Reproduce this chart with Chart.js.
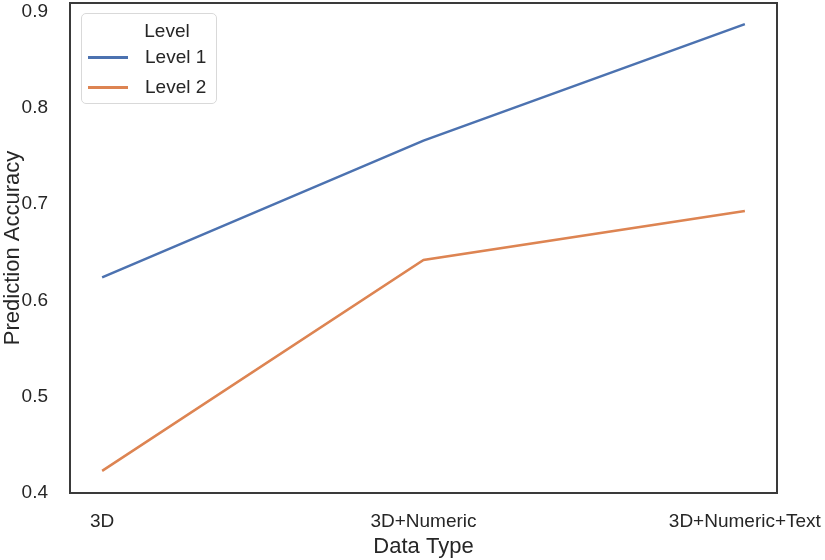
<!DOCTYPE html>
<html>
<head>
<title>Prediction Accuracy by Data Type</title>
<script src="https://cdn.jsdelivr.net/npm/chart.js@4.4.0/dist/chart.umd.min.js"></script>
<style>
    body {
        margin: 0;
        background: #fff;
        font-family: "Liberation Sans", Arial, sans-serif;
    }
    .wrap {
        position: relative;
        width: 825px;
        height: 560px;
    }
    .legend {
        position: absolute;
        left: 81px;
        top: 13px;
        width: 136px;
        height: 91px;
        box-sizing: border-box;
        border: 1px solid #d9d9d9;
        border-radius: 5px;
        background: rgba(255, 255, 255, 0.85);
        color: #262626;
        font-size: 19px;
    }
    .legend .title {
        text-align: center;
        margin-top: 6px;
        height: 22px;
        padding-left: 36px;
    }
    .legend .item {
        display: flex;
        align-items: center;
        height: 30px;
    }
    .legend .swatch {
        width: 40px;
        height: 3px;
        margin: 0 17px 0 6px;
    }
</style>
</head>
<body>
<div class="wrap">
    <canvas id="chart" width="825" height="560"></canvas>
    <div class="legend" id="legend"></div>
</div>
<script>
    const categories = ['3D', '3D+Numeric', '3D+Numeric+Text'];
    const level1 = [0.624, 0.766, 0.887];
    const level2 = [0.423, 0.642, 0.693];
    const seriesNames = ['Level 1', 'Level 2'];
    const seriesColors = ['#4C72B0', '#DD8452'];
    const yTicks = [0.4, 0.5, 0.6, 0.7, 0.8, 0.9];

    const toPoints = arr => arr.map((v, i) => ({ x: i, y: v }));

    // box around the plot area, like the seaborn frame
    const framePlugin = {
        id: 'frame',
        afterDraw(chart) {
            const { ctx, chartArea: a } = chart;
            ctx.save();
            ctx.strokeStyle = '#3a3a3a';
            ctx.lineWidth = 2;
            ctx.strokeRect(a.left, a.top, a.right - a.left, a.bottom - a.top);
            ctx.restore();
        }
    };

    const font = { family: '"Liberation Sans", Arial, sans-serif', size: 19 };
    const titleFont = { family: font.family, size: 22 };

    new Chart(document.getElementById('chart'), {
        type: 'line',
        data: {
            datasets: [level1, level2].map((arr, i) => ({
                label: seriesNames[i],
                data: toPoints(arr),
                borderColor: seriesColors[i],
                borderWidth: 2.5,
                pointRadius: 0,
                tension: 0,
                fill: false
            }))
        },
        options: {
            responsive: false,
            animation: false,
            layout: { padding: { top: 3, right: 48, left: 0, bottom: 0 } },
            plugins: {
                legend: { display: false },
                tooltip: { enabled: false }
            },
            scales: {
                x: {
                    type: 'linear',
                    min: -0.1,
                    max: 2.1,
                    grid: { display: false },
                    border: { display: false },
                    afterBuildTicks: axis => {
                        axis.ticks = categories.map((c, i) => ({ value: i }));
                    },
                    afterFit: axis => {
                        axis.height = 67;
                        axis.paddingLeft = 0;
                        axis.paddingRight = 0;
                    },
                    ticks: {
                        color: '#262626',
                        font: font,
                        padding: 9,
                        maxRotation: 0,
                        callback: v => categories[v]
                    },
                    title: {
                        display: true,
                        text: 'Data Type',
                        color: '#262626',
                        font: titleFont,
                        padding: { top: 0, bottom: 0 }
                    }
                },
                y: {
                    min: 0.4,
                    max: 0.909,
                    grid: { display: false },
                    border: { display: false },
                    afterBuildTicks: axis => {
                        axis.ticks = yTicks.map(v => ({ value: v }));
                    },
                    afterFit: axis => {
                        axis.width = 70;
                        axis.paddingTop = 0;
                        axis.paddingBottom = 0;
                    },
                    ticks: {
                        color: '#262626',
                        font: font,
                        padding: 14,
                        callback: v => v.toFixed(1)
                    },
                    title: {
                        display: true,
                        text: 'Prediction Accuracy',
                        color: '#262626',
                        font: titleFont,
                        padding: { top: 0, bottom: 0 }
                    }
                }
            }
        },
        plugins: [framePlugin]
    });

    // legend box drawn as html over the plot
    const legend = document.getElementById('legend');
    legend.innerHTML = '<div class="title">Level</div>' + seriesNames.map((n, i) =>
        '<div class="item"><span class="swatch" style="background:' + seriesColors[i] + '"></span>' + n + '</div>'
    ).join('');
</script>
</body>
</html>
